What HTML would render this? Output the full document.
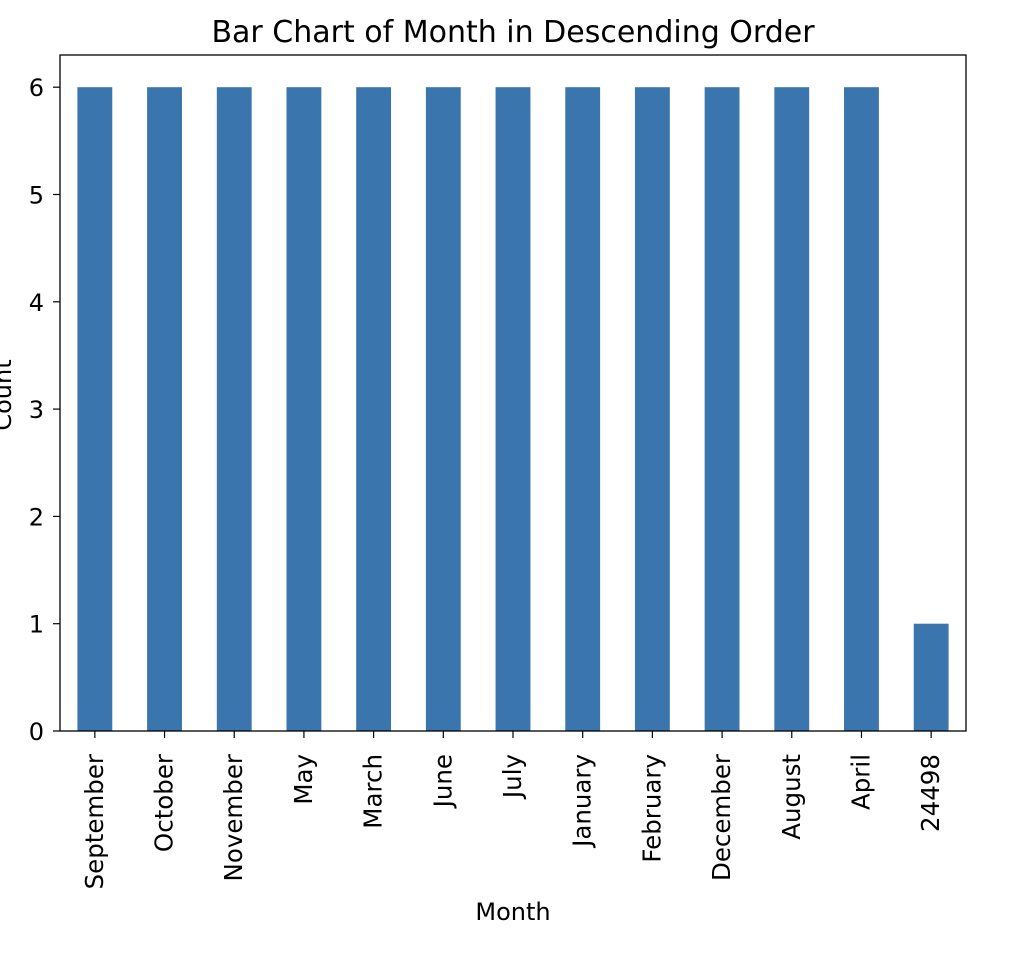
<!DOCTYPE html>
<html><head><meta charset="utf-8"><style>
body{margin:0;background:#fff;}
svg text{font-family:"DejaVu Sans","Liberation Sans",sans-serif;fill:#000;}
</style></head><body>
<svg id="chart" width="1016" height="954" viewBox="0 0 1016 954" xmlns="http://www.w3.org/2000/svg">
<rect width="1016" height="954" fill="#fff"/>
<g id="bars"></g>
<g id="axes"></g>
</svg>
<script>
const categories=["September","October","November","May","March","June","July","January","February","December","August","April","24498"];
const counts=[6,6,6,6,6,6,6,6,6,6,6,6,1];
const yTicks=[0,1,2,3,4,5,6];
const L=60,R=966,T=55,B=731;
const yMax=6.3;
const n=categories.length;
const step=(R-L)/n;
function xScale(i){return L+step*(i+0.5);}
function yScale(v){return B-(B-T)*v/yMax;}
const NS="http://www.w3.org/2000/svg";
function el(tag,attrs,parent,txt){const e=document.createElementNS(NS,tag);for(const k in attrs)e.setAttribute(k,attrs[k]);if(txt!==undefined)e.textContent=txt;parent.appendChild(e);return e;}
const bars=document.getElementById('bars'),axes=document.getElementById('axes');
const bw=step*0.5;
counts.forEach((v,i)=>{
 const r=el('rect',{x:xScale(i)-bw/2,y:yScale(v),width:bw,height:B-yScale(v),fill:'#3a75ae'},bars);
 
 
});
const frame=el('rect',{x:L,y:T,width:R-L,height:B-T,fill:'none',stroke:'#000','stroke-width':1.3},axes);


yTicks.forEach(t=>{
 const y=yScale(t);
 el('line',{x1:L-7,x2:L,y1:y,y2:y,stroke:'#000','stroke-width':1.2},axes);
 const tx=el('text',{x:L-16,y:y+9,'text-anchor':'end','font-size':24},axes,String(t));
 
 
});
categories.forEach((c,i)=>{
 const x=xScale(i);
 el('line',{x1:x,x2:x,y1:B,y2:B+7,stroke:'#000','stroke-width':1.2},axes);
 const tx=el('text',{x:0,y:0,'text-anchor':'end','font-size':24.5,transform:`translate(${x+8},754) rotate(-90)`},axes,c);
 
 
});
const title=el('text',{x:513,y:42,'text-anchor':'middle','font-size':30},axes,'Bar Chart of Month in Descending Order');


const xl=el('text',{x:513,y:920,'text-anchor':'middle','font-size':24},axes,'Month');


const yl=el('text',{x:0,y:0,'text-anchor':'middle','font-size':24,transform:'translate(11,395) rotate(-90)'},axes,'Count');


</script>
</body></html>
